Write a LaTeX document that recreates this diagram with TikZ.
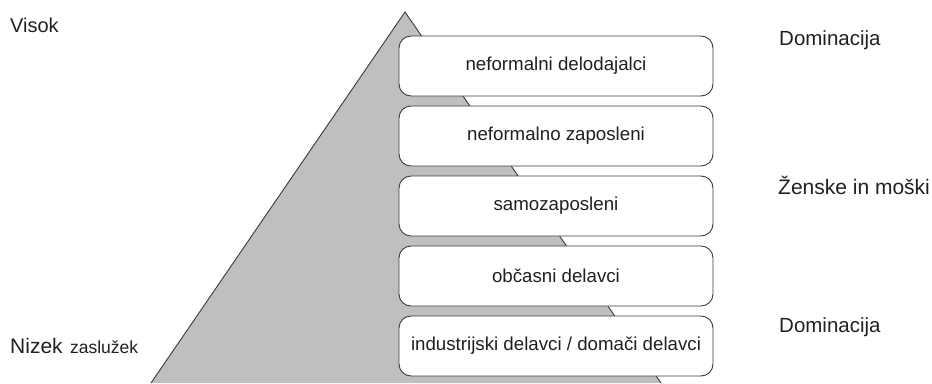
\documentclass[tikz,border=0pt]{standalone}
\usepackage{fontspec}
\setmainfont{Liberation Sans}
\definecolor{pyrfill}{HTML}{BEBFC1}
\definecolor{edgecol}{HTML}{3A3A3A}
\definecolor{txtcol}{HTML}{231F20}
\tikzset{
  level/.style={draw=edgecol, line width=0.9pt, fill=white, rounded corners=12pt,
    minimum width=314pt, minimum height=60pt, inner sep=0pt, text=txtcol,
    font=\fontsize{18.7}{22}\selectfont},
  sidelabel/.style={anchor=base west, inner sep=0pt, text=txtcol,
    font=\fontsize{20.5}{24}\selectfont},
}
\begin{document}
\begin{tikzpicture}[x=1pt,y=-1pt]
\useasboundingbox (0,0) rectangle (932,383);
% pyramid
\coordinate (apex) at (405,12);
\coordinate (bl) at (151,383);
\coordinate (br) at (661,383);
\fill[pyrfill] (bl) -- (apex) -- (br) -- cycle;
\draw[edgecol, line width=0.9pt] (bl) -- (apex) -- (br);
% levels
\node[level] (l1) at (556,66) {neformalni delodajalci};
\node[level] (l2) at (556,136) {neformalno zaposleni};
\node[level] (l3) at (556,206) {samozaposleni};
\node[level] (l4) at (556,276) {občasni delavci};
\node[level] (l5) at (556,346) {industrijski delavci / domači delavci};
% left labels
\node[sidelabel, font=\fontsize{20}{24}\selectfont] (visok) at (10,32) {Visok};
\node[sidelabel, font=\fontsize{21}{24}\selectfont] (nizek) at (10,353) {Nizek\hspace{0.35em}{\fontsize{17.5}{20}\selectfont zaslužek}};
% right labels
\node[sidelabel] (dom1) at (779,45) {Dominacija};
\node[sidelabel, font=\fontsize{21}{24}\selectfont] (zm) at (778,194) {Ženske in moški};
\node[sidelabel] (dom2) at (779,332) {Dominacija};
\end{tikzpicture}
\end{document}
